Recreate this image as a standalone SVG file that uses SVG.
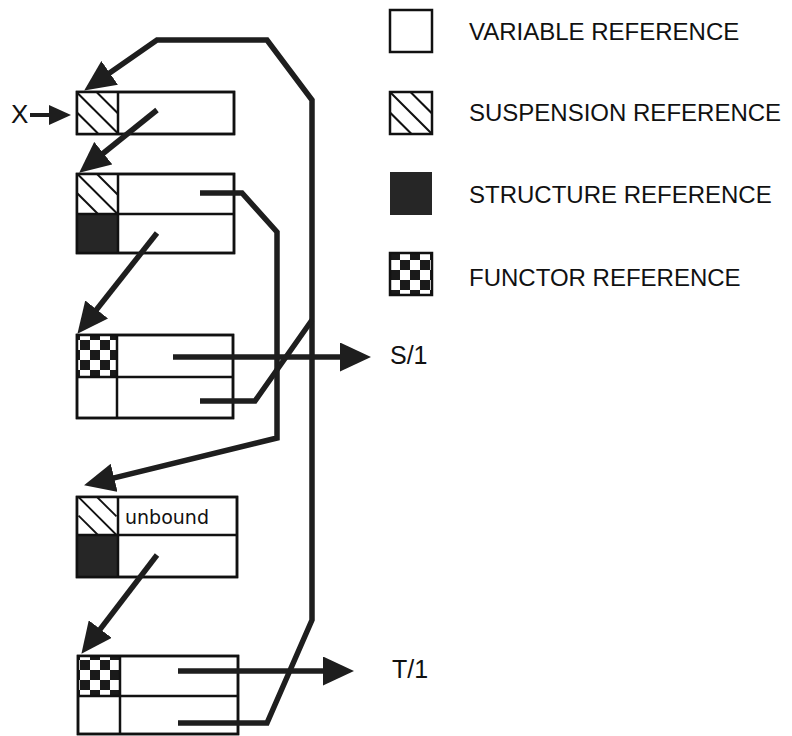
<svg xmlns="http://www.w3.org/2000/svg" width="792" height="736" viewBox="0 0 792 736">
<style>
.box{fill:#fff;stroke:#111;stroke-width:2.5}
.div{fill:none;stroke:#111;stroke-width:2.5}
.dark{fill:#262626}
.con{fill:none;stroke:#1e1e1e;stroke-width:5.5;stroke-linejoin:miter;stroke-linecap:butt}
.lbl{font-family:"Liberation Sans",Arial,sans-serif;fill:#111}
.leg{font-family:"Liberation Sans",Arial,sans-serif;font-size:24px;fill:#111}
.ub{font-family:"DejaVu Sans",Verdana,sans-serif;font-size:20px;fill:#111}
</style>
<defs>
<marker id="ah" markerUnits="userSpaceOnUse" markerWidth="31" markerHeight="29" refX="22" refY="14.5" orient="auto" viewBox="0 0 31 29">
<path d="M0,0 L31,14.5 L0,29 z" fill="#1e1e1e"/>
</marker>
<marker id="ahs" markerUnits="userSpaceOnUse" markerWidth="22" markerHeight="20" refX="16" refY="10" orient="auto" viewBox="0 0 22 20">
<path d="M0,0 L22,10 L0,20 z" fill="#1e1e1e"/>
</marker>
<symbol id="susp" viewBox="0 0 41 41" width="41" height="41">
<rect width="41" height="41" fill="#fff"/>
<g stroke="#111" stroke-width="2">
<line x1="20" y1="0" x2="41" y2="21"/>
<line x1="0" y1="0" x2="41" y2="41"/>
<line x1="0" y1="20" x2="21" y2="41"/>
</g>
</symbol>
<pattern id="chk" patternUnits="userSpaceOnUse" width="20" height="20">
<rect width="20" height="20" fill="#fff"/>
<rect width="10" height="10" fill="#1a1a1a"/>
<rect x="10" y="10" width="10" height="10" fill="#1a1a1a"/>
</pattern>
</defs>

<!-- legend -->
<g id="legend">
<g id="leg-var"><rect class="box" x="390" y="10" width="42" height="42"/><text class="leg" x="469" y="40">VARIABLE REFERENCE</text></g>
<g id="leg-susp"><use href="#susp" x="390" y="92" width="42" height="42"/><rect class="div" x="390" y="92" width="42" height="42"/><text class="leg" x="469" y="121">SUSPENSION REFERENCE</text></g>
<g id="leg-struct"><rect class="dark" x="390" y="172" width="42" height="43"/><text class="leg" x="469" y="203">STRUCTURE REFERENCE</text></g>
<g id="leg-func"><rect x="390" y="253" width="42" height="42" fill="url(#chk)"/><rect class="div" x="390" y="253" width="42" height="42"/><text class="leg" x="469" y="286">FUNCTOR REFERENCE</text></g>
</g>

<!-- X label -->
<g id="xlabel">
<text class="lbl" x="11" y="123" font-size="26">X</text>
</g>

<!-- nodes -->
<g id="cell1">
<rect class="box" x="77" y="92" width="157" height="42"/>
<use href="#susp" x="77" y="92" width="41" height="42"/>
<rect class="div" x="77" y="92" width="157" height="42"/>
<line class="div" x1="118" y1="92" x2="118" y2="134"/>
</g>

<g id="cell2">
<rect class="box" x="77" y="174" width="157" height="79"/>
<use href="#susp" x="77" y="174" width="41" height="40"/>
<rect class="dark" x="77" y="214" width="41" height="39"/>
<rect class="div" x="77" y="174" width="157" height="79"/>
<line class="div" x1="118" y1="174" x2="118" y2="253"/>
<line class="div" x1="77" y1="214" x2="234" y2="214"/>
</g>

<g id="cell3">
<rect class="box" x="77" y="335" width="156" height="83"/>
<rect x="77" y="335" width="40" height="42" fill="url(#chk)"/>
<rect class="div" x="77" y="335" width="156" height="83"/>
<line class="div" x1="117" y1="335" x2="117" y2="418"/>
<line class="div" x1="77" y1="377" x2="233" y2="377"/>
</g>

<g id="cell4">
<rect class="box" x="77" y="497" width="160" height="80"/>
<use href="#susp" x="77" y="497" width="41" height="38"/>
<rect class="dark" x="77" y="535" width="41" height="42"/>
<rect class="div" x="77" y="497" width="160" height="80"/>
<line class="div" x1="118" y1="497" x2="118" y2="577"/>
<line class="div" x1="77" y1="535" x2="237" y2="535"/>
<text class="ub" x="125" y="524" textLength="84" lengthAdjust="spacingAndGlyphs">unbound</text>
</g>

<g id="cell5">
<rect class="box" x="78" y="656" width="160" height="78"/>
<rect x="78" y="656" width="42" height="40" fill="url(#chk)"/>
<rect class="div" x="78" y="656" width="160" height="78"/>
<line class="div" x1="120" y1="656" x2="120" y2="734"/>
<line class="div" x1="78" y1="696" x2="238" y2="696"/>
</g>

<g id="labels">
<text class="lbl" x="390" y="364" font-size="25">S/1</text>
<text class="lbl" x="392" y="678" font-size="25">T/1</text>
</g>

<!-- connectors -->
<g id="connectors">
<line x1="30" y1="115" x2="65" y2="115" stroke="#1e1e1e" stroke-width="4" marker-end="url(#ahs)"/>
<polyline class="con" points="178,723 267,723 312,620 312,100 267,40 157,40 91.6,85.4" marker-end="url(#ah)"/>
<polyline class="con" points="157,110 86.2,167" marker-end="url(#ah)"/>
<polyline class="con" points="157,233 83,326.7" marker-end="url(#ah)"/>
<polyline class="con" points="200,193 242,193 277,232 277,438 92.8,483.1" marker-end="url(#ah)"/>
<polyline class="con" points="157,555 86.9,646.6" marker-end="url(#ah)"/>
<polyline class="con" points="173,357 362,357" marker-end="url(#ah)"/>
<polyline class="con" points="178,671 345,671" marker-end="url(#ah)"/>
<polyline class="con" points="200,401 255,401 312,320"/>
</g>
</svg>
